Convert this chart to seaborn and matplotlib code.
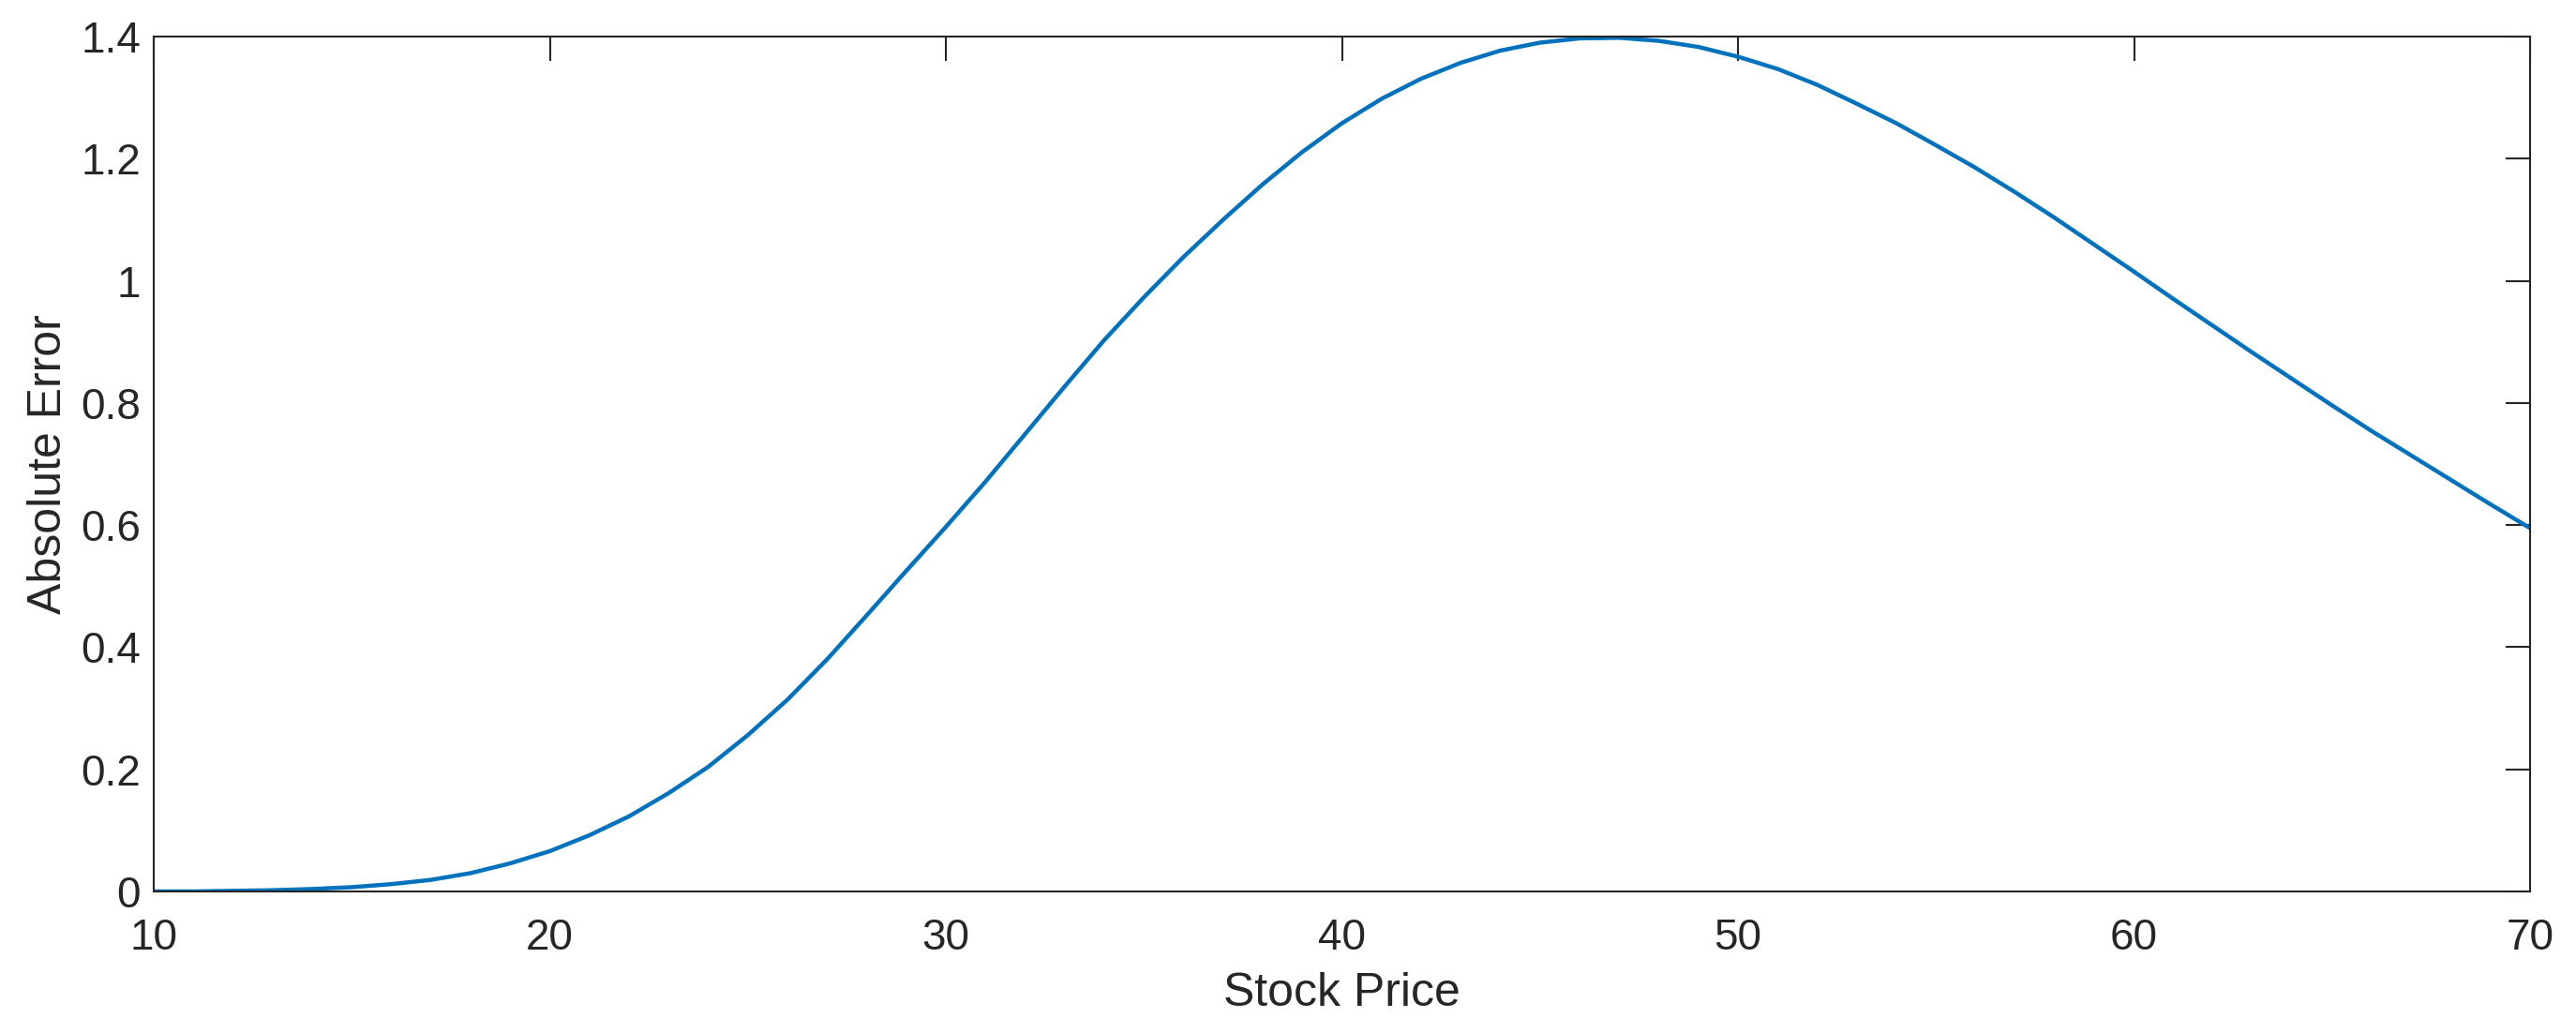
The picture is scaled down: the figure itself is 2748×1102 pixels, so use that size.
import numpy as np
import pandas as pd
import matplotlib
matplotlib.use("Agg")
import matplotlib.pyplot as plt
import seaborn as sns

# stock price grid and the absolute error
stock_price = list(range(10, 71))
abs_error = [
    0.000, 0.000, 0.001, 0.002, 0.004, 0.007, 0.012, 0.019, 0.030, 0.046,
    0.066, 0.092, 0.123, 0.161, 0.204, 0.256, 0.314, 0.380, 0.452, 0.525,
    0.597, 0.671, 0.749, 0.827, 0.903, 0.973, 1.039, 1.100, 1.158, 1.211,
    1.258, 1.298, 1.331, 1.357, 1.377, 1.390, 1.397, 1.398, 1.393, 1.383,
    1.367, 1.347, 1.321, 1.290, 1.258, 1.222, 1.185, 1.145, 1.103, 1.059,
    1.015, 0.970, 0.926, 0.882, 0.839, 0.796, 0.754, 0.714, 0.674, 0.634,
    0.595,
]
x_ticks = [10, 20, 30, 40, 50, 60, 70]
y_ticks = [0, 0.2, 0.4, 0.6, 0.8, 1.0, 1.2, 1.4]
y_tick_labels = ["0", "0.2", "0.4", "0.6", "0.8", "1", "1.2", "1.4"]

df = pd.DataFrame({"Stock Price": stock_price, "Absolute Error": abs_error})

sns.set_style("white")
plt.rcParams["font.family"] = ["Liberation Sans", "DejaVu Sans"]

dark = "#262626"
fig = plt.figure(figsize=(27.48, 11.02), dpi=100)
ax = fig.add_axes([164 / 2748, 1 - 951 / 1102, 2535 / 2748, 912 / 1102])

sns.lineplot(data=df, x="Stock Price", y="Absolute Error", ax=ax,
             color="#0072BD", linewidth=3.2)

ax.set_xlim(10, 70)
ax.set_ylim(0, 1.4)
ax.set_xticks(x_ticks)
ax.set_xticklabels([str(t) for t in x_ticks])
ax.set_yticks(y_ticks)
ax.set_yticklabels(y_tick_labels)

for side in ["left", "right", "top", "bottom"]:
    ax.spines[side].set_visible(True)
    ax.spines[side].set_color(dark)
    ax.spines[side].set_linewidth(1.5)

ax.tick_params(axis="both", direction="in", length=19, width=1.5, color=dark,
               labelcolor=dark, labelsize=33, top=True, right=True)
ax.tick_params(axis="x", pad=20)
ax.tick_params(axis="y", pad=10)

ax.set_xlabel("Stock Price", fontsize=36, color=dark, labelpad=10)
ax.set_ylabel("Absolute Error", fontsize=36, color=dark, labelpad=8)

fig.savefig("out.png", dpi=100, facecolor="white")
